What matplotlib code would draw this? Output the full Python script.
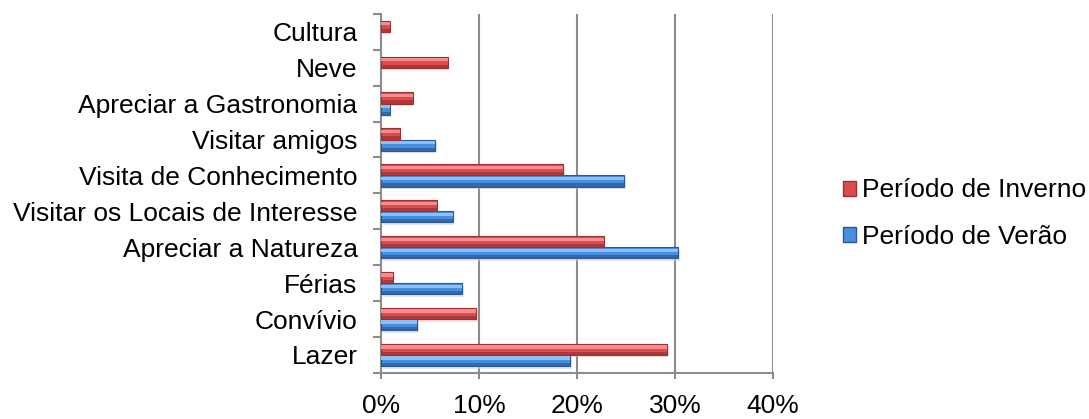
import numpy as np
import matplotlib
matplotlib.use("Agg")
import matplotlib.pyplot as plt
from matplotlib.patches import Patch

plt.rcParams['font.family'] = ['Liberation Sans', 'DejaVu Sans']

# Data (bottom to top)
categories = ["Lazer", "Convívio", "Férias", "Apreciar a Natureza",
              "Visitar os Locais de Interesse", "Visita de Conhecimento",
              "Visitar amigos", "Apreciar a Gastronomia", "Neve", "Cultura"]
verao = [19.3, 3.7, 8.3, 30.3, 7.3, 24.8, 5.5, 0.9, 0.0, 0.0]
inverno = [29.2, 9.7, 1.2, 22.7, 5.7, 18.6, 1.9, 3.2, 6.8, 0.9]
xticks = [0, 10, 20, 30, 40]

red = ("#DE4B4D", "#F38C8C", "#9E2E30")
blue = ("#4A8FDF", "#8CC0F2", "#2A5896")

fig = plt.figure(figsize=(10.89, 4.19), dpi=100)
ax = fig.add_axes([0.350, 0.110, 0.360, 0.857])

y = np.arange(len(categories))
h = 0.31


def bevel_bars(pos, vals, cols):
    vals = np.asarray(vals)
    keep = vals > 0
    pos, vals = pos[keep], vals[keep]
    # drop shadow
    ax.barh(pos - 0.07, vals, height=h, left=0.15, color="#d4d4d4",
            alpha=0.6, zorder=2, linewidth=0)
    # main body
    ax.barh(pos, vals, height=h, color=cols[0], zorder=3,
            edgecolor=cols[2], linewidth=0.8)
    # highlight on top part
    ax.barh(pos + h * 0.22, vals, height=h * 0.3, color=cols[1],
            zorder=4, linewidth=0)
    # darker bottom band
    ax.barh(pos - h * 0.36, vals, height=h * 0.28, color=cols[2],
            zorder=4, linewidth=0, alpha=0.7)


bevel_bars(y - h / 2, verao, blue)
bevel_bars(y + h / 2, inverno, red)

ax.set_xlim(0, 40)
ax.set_ylim(-0.5, len(categories) - 0.5)
ax.set_xticks(xticks)
ax.set_xticklabels([f"{v}%" for v in xticks], fontsize=19)
ax.set_yticks(y)
ax.set_yticklabels(categories, fontsize=19)
ax.set_yticks(np.arange(-0.5, len(categories), 1), minor=True)
ax.tick_params(axis="y", which="major", length=0, pad=17)
ax.tick_params(axis="y", which="minor", length=6, width=1.5, color="#8c8c8c")
ax.tick_params(axis="x", length=4, width=1.5, color="#8c8c8c", pad=11)

ax.grid(axis="x", color="#8c8c8c", linewidth=1.5, zorder=0)
ax.set_axisbelow(True)
for s in ["top", "right"]:
    ax.spines[s].set_visible(False)
for s in ["left", "bottom"]:
    ax.spines[s].set_color("#8c8c8c")
    ax.spines[s].set_linewidth(1.5)

handles = [Patch(facecolor=red[0], edgecolor=red[2], label="Período de Inverno"),
           Patch(facecolor=blue[0], edgecolor=blue[2], label="Período de Verão")]
fig.legend(handles=handles, loc="center left", bbox_to_anchor=(0.752, 0.49),
           frameon=False, fontsize=19, handlelength=0.5, handleheight=0.5,
           handletextpad=0.25, labelspacing=0.85)

fig.savefig("out.png", dpi=100)
